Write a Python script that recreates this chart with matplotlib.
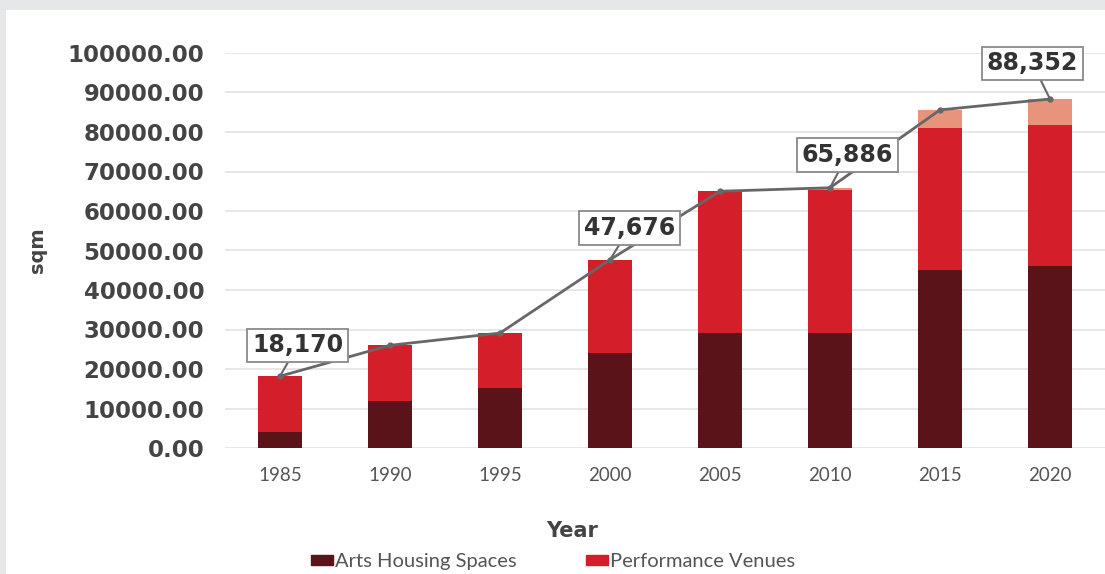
import matplotlib.pyplot as plt
from matplotlib.patches import Rectangle, Patch

# =======================================
#   DATOS
# =======================================
years = ["1985", "1990", "1995", "2000", "2005", "2010", "2015", "2020"]
arts_housing = [4000, 12000, 15200, 24000, 29000, 29000, 45000, 46000]
performance = [14170, 14000, 13900, 23676, 36000, 36386, 36000, 35700]
other = [0, 0, 0, 0, 0, 500, 4600, 6652]
totals = [18170, 26000, 29100, 47676, 65000, 65886, 85600, 88352]

# etiquetas destacadas: (indice, posicion de la caja x, y)
callouts = [(0, 0.16, 26000), (3, 3.18, 55700), (5, 5.16, 74200), (7, 6.84, 97400)]

DARK = "#5a1319"
RED = "#d41f2a"
SALMON = "#e8937c"
LINE = "#676767"
BOLD_FONT = "DejaVu Sans"

plt.rcParams["font.family"] = ["Lato", "DejaVu Sans"]

fig = plt.figure(figsize=(11.05, 5.74), dpi=100)
fig.patch.set_facecolor("#e6e7e9")
fig.patches.append(Rectangle((6 / 1105, 0), 1, 1 - 10 / 574, transform=fig.transFigure,
                             facecolor="white", edgecolor="none", zorder=-10))

ax = fig.add_axes([225 / 1105, 1 - 448 / 574, 880 / 1105, 395 / 574])
ax.set_facecolor("none")
ax.set_zorder(5)

x = list(range(len(years)))
ax.bar(x, arts_housing, width=0.4, color=DARK, zorder=2)
ax.bar(x, performance, width=0.4, bottom=arts_housing, color=RED, zorder=2)
bottom2 = [a + b for a, b in zip(arts_housing, performance)]
ax.bar(x, other, width=0.4, bottom=bottom2, color=SALMON, zorder=2)

ax.plot(x, totals, color=LINE, lw=2, marker="o", ms=3.5, zorder=3)

for i, bx, by in callouts:
    ax.annotate(f"{totals[i]:,}", xy=(x[i], totals[i]), xytext=(bx, by),
                ha="center", va="center", fontsize=17, fontweight="bold", color="#333333",
                family=BOLD_FONT, annotation_clip=False,
                bbox=dict(boxstyle="square,pad=0.2", fc="white", ec="#8a8a8a", lw=1.3),
                arrowprops=dict(arrowstyle="-", color=LINE, lw=1.5, shrinkA=0, shrinkB=0),
                zorder=4)

ax.set_xlim(-0.5, 7.5)
ax.set_ylim(0, 100000)
ax.set_yticks(range(0, 100001, 10000))
ax.set_yticklabels([f"{v:.2f}" for v in range(0, 100001, 10000)],
                   fontsize=16.5, fontweight="bold", color="#444444", family=BOLD_FONT)
ax.set_xticks(x)
ax.set_xticklabels(years, fontsize=13.5, color="#555555")
ax.tick_params(length=0)
ax.tick_params(axis="y", pad=15)
ax.tick_params(axis="x", pad=14)
ax.grid(axis="y", color="#e3e3e3", lw=1.2, zorder=0)
for s in ax.spines.values():
    s.set_visible(False)

fig.text(572 / 1105, 1 - 531 / 574, "Year", ha="center", va="center",
         fontsize=15, fontweight="bold", color="#444444", family=BOLD_FONT)
fig.text(37 / 1105, 1 - 250 / 574, "sqm", rotation=90, ha="center", va="center",
         fontsize=14, fontweight="bold", color="#444444", family=BOLD_FONT)

handles = [Patch(color=DARK, label="Arts Housing Spaces"),
           Patch(color=RED, label="Performance Venues")]
fig.legend(handles=handles, loc="lower center", bbox_to_anchor=(0.5005, -0.025), ncol=2,
           frameon=False, fontsize=14.5, handlelength=1.1, handleheight=0.45,
           handletextpad=0.1, columnspacing=3.4, labelcolor="#555555")

fig.savefig("out.png", dpi=100, facecolor=fig.get_facecolor())
